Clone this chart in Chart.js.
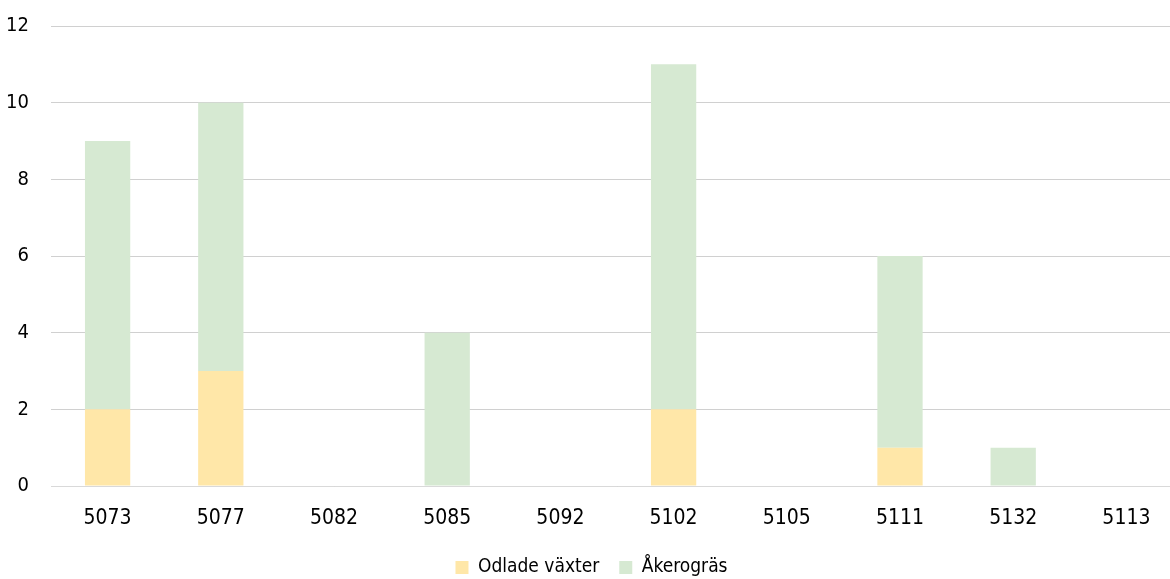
<!DOCTYPE html>
<html><head><meta charset="utf-8">
<script src="https://cdn.jsdelivr.net/npm/chart.js@4"></script>
<style>
html,body{margin:0;padding:0;background:#fff;overflow:hidden;}
#wrap{width:1183px;height:595px;position:relative;margin-top:-8px;}
</style></head>
<body><div id="wrap"><canvas id="c"></canvas></div>
<script>
const categories = ['5073','5077','5082','5085','5092','5102','5105','5111','5132','5113'];
const odladeVaxter = [2,3,0,0,0,2,0,1,0,0];
const akerogras = [7,7,0,4,0,9,0,5,1,0];
const yTicks = [0,2,4,6,8,10,12];
const FONT = '"Liberation Sans Narrow","Arial Narrow","DejaVu Sans Condensed",sans-serif';

new Chart(document.getElementById('c'), {
  type: 'bar',
  data: {
    labels: categories,
    datasets: [
      {label:'Odlade växter', data: odladeVaxter, backgroundColor:'#FFE7A8', categoryPercentage:1, barPercentage:0.4},
      {label:'Åkerogräs', data: akerogras, backgroundColor:'#D6E9D2', categoryPercentage:1, barPercentage:0.4}
    ]
  },
  options: {
    responsive:true, maintainAspectRatio:false, animation:false,
    layout:{padding:{top:17,left:0,right:0,bottom:0}},
    plugins:{
      tooltip:{enabled:false},
      legend:{position:'bottom', labels:{font:{family:FONT,size:19}, color:'#000', boxWidth:13, boxHeight:13, padding:20}}
    },
    scales:{
      x:{stacked:true, grid:{display:false}, border:{display:true, color:'#d9d9d9', width:1},
         ticks:{font:{family:FONT,size:21}, color:'#000', padding:12, maxRotation:0},
         afterFit(s){ s.height = 52; }},
      y:{stacked:true, min:0, max:12,
         afterBuildTicks(s){ s.ticks = yTicks.map(v=>({value:v})); },
         grid:{color:'#d0d0d0', lineWidth:1, drawTicks:false},
         border:{display:false},
         ticks:{font:{family:FONT,size:20}, color:'#000', padding:22},
         afterFit(s){ s.width = 51; }}
    }
  }
});
</script></body></html>
